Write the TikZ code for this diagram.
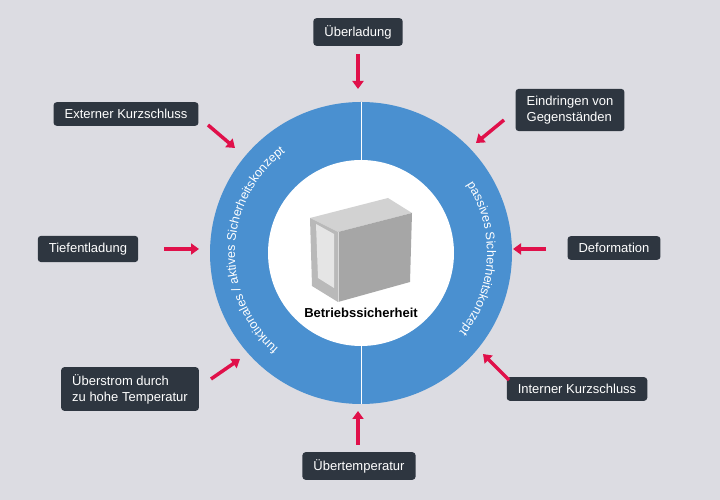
\documentclass[tikz,border=0pt]{standalone}
\usepackage{fontspec}
\setmainfont{Liberation Sans}
\usetikzlibrary{decorations.text,arrows.meta,calc}
\definecolor{bg}{HTML}{DCDCE2}
\definecolor{ring}{HTML}{4A90D0}
\definecolor{box}{HTML}{2E3640}
\definecolor{pink}{HTML}{E0104A}
\begin{document}
\begin{tikzpicture}[x=1pt,y=1pt,
  lbl/.style={fill=box,text=white,rounded corners=3pt,font=\fontsize{13}{16}\selectfont,inner xsep=11pt,inner ysep=7pt,align=left},
  arr/.style={pink,line width=3.5pt,-{Triangle[length=8pt,width=11pt]}}]
\fill[bg] (0,0) rectangle (720,500);
\useasboundingbox (0,0) rectangle (720,500);
\coordinate (c) at (361,247);
\fill[ring] (c) circle (151);
\draw[white,line width=0.8pt] (361,96) -- (361,398);
\fill[white] (c) circle (93);
% arc texts
\path[decorate,decoration={text along path,text align=center,text={|\color{white}\fontsize{12.5}{14}\selectfont|funktionales / aktives Sicherheitskonzept}}]
  ($(c)+(240:126)$) arc (240:116:126);
\path[decorate,decoration={text along path,text align=center,text={|\color{white}\fontsize{12.5}{14}\selectfont|passives Sicherheitskonzept}}]
  ($(c)+(50:126)$) arc (50:-56:126);
% battery
\fill[gray!35] (310,282) -- (388,302) -- (412,287) -- (338,268) -- cycle;
\fill[gray!55] (310,282) -- (338,268) -- (338,198) -- (312,214) -- cycle;
\fill[gray!70] (338,268) -- (412,287) -- (410,218) -- (338,198) -- cycle;
\draw[gray!30,line width=0.5pt] (338,268) -- (338,198);
\fill[gray!20] (316,276) -- (334,266) -- (334,212) -- (318,222) -- cycle;
\node[font=\bfseries\fontsize{13}{15}\selectfont] (t) at (361,187) {Betriebssicherheit};
% labels
\node[lbl] (n1) at (358,468) {Überladung};
\node[lbl] (n2) at (126,386) {Externer Kurzschluss};
\node[lbl] (n3) at (570,390) {Eindringen von\\Gegenständen};
\node[lbl] (n4) at (88,251) {Tiefentladung};
\node[lbl] (n5) at (614,252) {Deformation};
\node[lbl] (n6) at (130,111) {Überstrom durch\\zu hohe Temperatur};
\node[lbl] (n7) at (577,111) {Interner Kurzschluss};
\node[lbl] (n8) at (359,34) {Übertemperatur};
% arrows
\coordinate (a1) at (358,446); \coordinate (b1) at (358,411);
\coordinate (a2) at (208,375); \coordinate (b2) at (235,352);
\coordinate (a3) at (504,380); \coordinate (b3) at (476,357);
\coordinate (a4) at (164,251); \coordinate (b4) at (199,251);
\coordinate (a5) at (546,251); \coordinate (b5) at (513,251);
\coordinate (a6) at (211,121); \coordinate (b6) at (240,141);
\coordinate (a7) at (509,120); \coordinate (b7) at (483,146);
\coordinate (a8) at (358,55); \coordinate (b8) at (358,89);
\foreach \i in {1,...,8} \draw[arr] (a\i) -- (b\i);
\end{tikzpicture}
\end{document}
